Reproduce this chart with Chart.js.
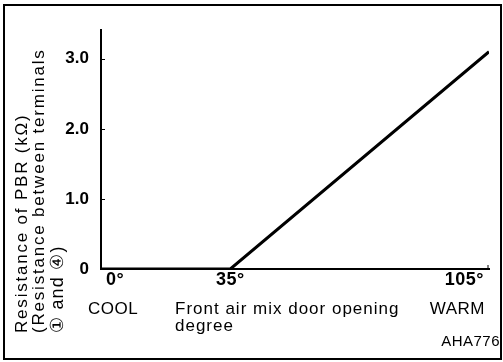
<!DOCTYPE html>
<html>
<head>
<meta charset="utf-8">
<script src="https://cdn.jsdelivr.net/npm/chart.js@4.4.1/dist/chart.umd.min.js"></script>
<style>
  html, body { margin: 0; padding: 0; background: #fff; }
  #wrap { width: 503px; height: 362px; }
</style>
</head>
<body>
<div id="wrap"><canvas id="c" width="503" height="362"></canvas></div>
<script>
// Door opening angle (degrees) and PBR resistance (kΩ)
const openingDeg = [0, 35, 105];
const resistanceK = [0, 0, 3.1];

// Axis tick values and their labels
const yTickValues = [0, 1, 2, 3];
const yTickLabels = ['0', '1.0', '2.0', '3.0'];
const xTickValues = [0, 35, 105];
const xTickLabels = ['0°', '35°', '105°'];
const xEndNames = ['COOL', 'WARM'];

const xTitleLines = ['Front air mix door opening', 'degree'];
const yTitleLines = ['Resistance of PBR (kΩ)', '(Resistance between terminals', '① and ④)'];
const figureCode = 'AHA776';

const FONT = '"Liberation Sans", Arial, Helvetica, sans-serif';

const decorations = {
  id: 'decorations',
  beforeDraw(chart) {
    const ctx = chart.ctx;
    ctx.save();
    ctx.fillStyle = '#fff';
    ctx.fillRect(0, 0, chart.width, chart.height);
    // outer frame
    ctx.strokeStyle = '#000';
    ctx.lineWidth = 2;
    ctx.strokeRect(4, 5, 497, 354);
    ctx.restore();
  },
  afterDraw(chart) {
    const ctx = chart.ctx;
    const xs = chart.scales.x, ys = chart.scales.y;
    ctx.save();
    ctx.fillStyle = '#000';
    ctx.strokeStyle = '#000';

    // short inward tick marks on the value axis
    ctx.lineWidth = 1;
    yTickValues.slice(1).forEach(v => {
      const py = Math.round(ys.getPixelForValue(v)) + 0.5;
      ctx.beginPath();
      ctx.moveTo(xs.left, py);
      ctx.lineTo(xs.left + 4, py);
      ctx.stroke();
    });
    // end tick on the angle axis
    const pEnd = xs.getPixelForValue(105);
    ctx.beginPath();
    ctx.moveTo(pEnd - 1, ys.bottom);
    ctx.lineTo(pEnd - 1, ys.bottom - 4);
    ctx.stroke();

    ctx.textBaseline = 'middle';
    if ('letterSpacing' in ctx) ctx.letterSpacing = '0.5px';

    // angle tick labels
    const p0 = xs.getPixelForValue(xTickValues[0]);
    const p1 = xs.getPixelForValue(xTickValues[1]);
    const p2 = xs.getPixelForValue(xTickValues[2]);
    ctx.font = 'bold 18px ' + FONT;
    ctx.textAlign = 'center';
    ctx.fillText(xTickLabels[0], p0 + 14, 280);
    ctx.fillText(xTickLabels[1], p1, 280);
    ctx.textAlign = 'right';
    ctx.fillText(xTickLabels[2], p2 - 5, 280);

    ctx.font = '17px ' + FONT;
    ctx.textAlign = 'center';
    ctx.fillText(xEndNames[0], p0 + 12, 309);
    ctx.textAlign = 'right';
    ctx.fillText(xEndNames[1], p2 - 4, 309);

    // angle axis title
    if ('letterSpacing' in ctx) ctx.letterSpacing = '1px';
    ctx.font = '17px ' + FONT;
    ctx.textAlign = 'left';
    ctx.fillText(xTitleLines[0], 175, 309);
    ctx.fillText(xTitleLines[1], 175, 326);

    // figure code
    if ('letterSpacing' in ctx) ctx.letterSpacing = '0.5px';
    ctx.font = '15px ' + FONT;
    ctx.textAlign = 'right';
    ctx.fillText(figureCode, 500, 342);

    // rotated value axis title
    ctx.save();
    ctx.translate(0, 333);
    ctx.rotate(-Math.PI / 2);
    if ('letterSpacing' in ctx) ctx.letterSpacing = '1.8px';
    ctx.font = '17px ' + FONT;
    ctx.textAlign = 'left';
    const cols = [22, 39, 58];
    ctx.fillText(yTitleLines[0], 0, cols[0]);
    ctx.fillText(yTitleLines[1], 0, cols[1]);
    ctx.letterSpacing = '1.2px';
    ctx.font = '18px ' + FONT;
    ctx.fillText(yTitleLines[2], 0, cols[2]);
    ctx.restore();

    ctx.restore();
  }
};

new Chart(document.getElementById('c'), {
  type: 'line',
  data: {
    datasets: [{
      data: openingDeg.map((d, i) => ({ x: d, y: resistanceK[i] })),
      borderColor: '#000',
      borderWidth: 3,
      pointRadius: 0,
      tension: 0,
      fill: false
    }]
  },
  options: {
    responsive: false,
    animation: false,
    events: [],
    layout: { padding: { left: 0, right: 14, top: 30, bottom: 0 } },
    plugins: { legend: { display: false }, tooltip: { enabled: false }, title: { display: false } },
    scales: {
      x: {
        type: 'linear',
        min: 0,
        max: 105,
        grid: { display: false },
        border: { display: true, color: '#000', width: 2 },
        ticks: { display: false },
        afterBuildTicks(scale) { scale.ticks = xTickValues.map(v => ({ value: v })); },
        afterFit(scale) { scale.height = 93; }
      },
      y: {
        type: 'linear',
        min: 0,
        max: 3.41,
        grid: { display: false },
        border: { display: true, color: '#000', width: 2 },
        ticks: {
          color: '#000',
          padding: 4,
          font: { family: FONT, size: 17, weight: 'bold' },
          callback: (v) => yTickLabels[yTickValues.indexOf(v)] ?? ''
        },
        afterBuildTicks(scale) { scale.ticks = yTickValues.map(v => ({ value: v })); },
        afterFit(scale) { scale.width = 101; }
      }
    }
  },
  plugins: [decorations]
});
</script>
</body>
</html>
